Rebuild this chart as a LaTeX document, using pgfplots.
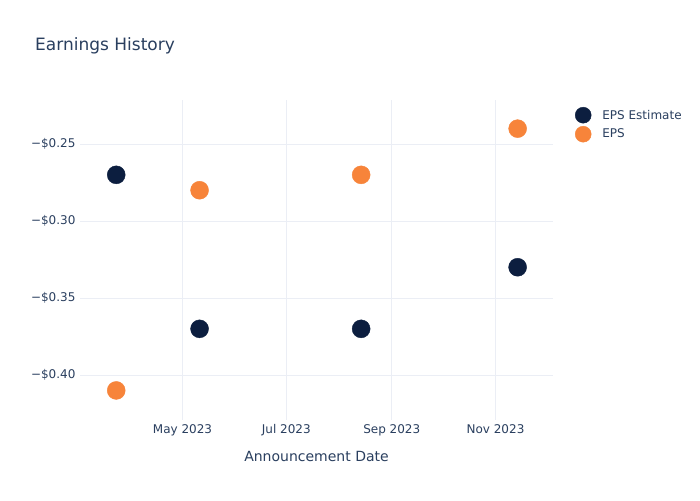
\documentclass[border=0pt]{standalone}
\usepackage{pgfplots}
\pgfplotsset{compat=1.18}
\usepackage{fontspec}
\setmainfont{DejaVu Sans}
\definecolor{navy}{HTML}{0C1E3F}
\definecolor{orng}{HTML}{F7843A}
\definecolor{txt}{HTML}{2A3F5F}
\definecolor{grd}{HTML}{EBEEF5}
\begin{document}
\begin{tikzpicture}
\useasboundingbox[fill=white] (0pt,0pt) rectangle (700pt,500pt);
\node[anchor=west,text=txt,font=\fontsize{17}{20}\selectfont,inner sep=0] at (35pt,454pt) {Earnings History};
\begin{axis}[
  at={(80pt,80pt)}, anchor=south west,
  scale only axis, width=473pt, height=320pt,
  xmin=-60.3, xmax=217.8, ymin=-0.4292, ymax=-0.2214,
  axis line style={draw=none},
  major tick style={draw=none},
  grid=major, major grid style={grd, line width=1pt},
  xtick={0,61,123,184},
  xticklabels={May 2023,Jul 2023,Sep 2023,Nov 2023},
  ytick={-0.40,-0.35,-0.30,-0.25},
  yticklabels={−\$0.40,−\$0.35,−\$0.30,−\$0.25},
  tick label style={text=txt,font=\fontsize{12}{14}\selectfont},
  xticklabel style={yshift=-1pt},
  yticklabel style={xshift=-1pt},
  xlabel={Announcement Date},
  xlabel style={text=txt,font=\fontsize{14}{17}\selectfont, at={(axis description cs:0.5,0)}, anchor=center, yshift=-36pt},
  legend style={at={(axis description cs:1,1)}, anchor=north west, xshift=22pt, yshift=-7pt, draw=none, fill=none, inner sep=0pt, row sep=3pt, font=\fontsize{12}{14}\selectfont, text=txt},
  legend cell align=left,
  legend image code/.code={\draw[#1, mark size=8pt] plot coordinates {(8pt,0pt)}; \path (25pt,0pt);},
]
\addplot[only marks, mark=*, mark size=9pt, color=navy, mark options={draw=navy, fill=navy}] coordinates {(-39,-0.27) (10,-0.37) (105,-0.37) (197,-0.33)};
\addlegendentry{EPS Estimate}
\addplot[only marks, mark=*, mark size=9pt, color=orng, mark options={draw=orng, fill=orng}] coordinates {(-39,-0.41) (10,-0.28) (105,-0.27) (197,-0.24)};
\addlegendentry{EPS}
\end{axis}
\end{tikzpicture}
\end{document}
